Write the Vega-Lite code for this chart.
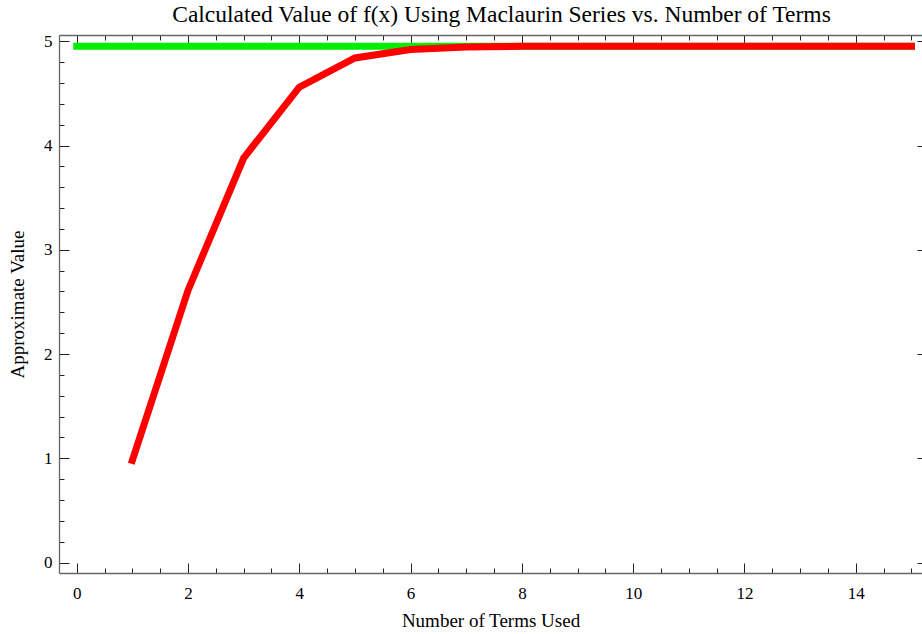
{
  "$schema": "https://vega.github.io/schema/vega-lite/v6.json",
  "autosize": "none",
  "width": 863,
  "height": 538,
  "padding": {"left": 59, "top": 35, "right": 0, "bottom": 61},
  "background": "white",
  "title": {
    "text": "Calculated Value of  f(x) Using Maclaurin Series vs. Number of Terms",
    "font": "Liberation Serif",
    "fontSize": 23.5,
    "fontWeight": "normal",
    "color": "black",
    "anchor": "middle",
    "dx": 11,
    "offset": 6
  },
  "config": {
    "view": {"stroke": null},
    "axis": {
      "labelFont": "Liberation Serif",
      "titleFont": "Liberation Serif",
      "labelFontSize": 17,
      "titleFontSize": 19,
      "titleFontWeight": "normal",
      "labelColor": "black",
      "titleColor": "black",
      "domainColor": "#666666",
      "domainWidth": 1.3,
      "tickColor": "#222222",
      "tickWidth": 1,
      "grid": false
    }
  },
  "datasets": {
    "approx": [
      {"terms": 1, "value": 0.98},
      {"terms": 2, "value": 2.61},
      {"terms": 3, "value": 3.88},
      {"terms": 4, "value": 4.56},
      {"terms": 5, "value": 4.84},
      {"terms": 6, "value": 4.92},
      {"terms": 7, "value": 4.945},
      {"terms": 8, "value": 4.951},
      {"terms": 9, "value": 4.953},
      {"terms": 10, "value": 4.953},
      {"terms": 11, "value": 4.953},
      {"terms": 12, "value": 4.953},
      {"terms": 13, "value": 4.953},
      {"terms": 14, "value": 4.953},
      {"terms": 15, "value": 4.953}
    ],
    "exact": [
      {"terms": 0, "value": 4.953},
      {"terms": 15, "value": 4.953}
    ]
  },
  "resolve": {"axis": {"x": "independent", "y": "independent"}},
  "layer": [
    {
      "data": {"name": "exact"},
      "mark": {"type": "line", "color": "#00ee00", "strokeWidth": 7, "strokeCap": "square", "clip": false},
      "encoding": {
        "x": {
          "field": "terms", "type": "quantitative",
          "scale": {"domain": [-0.318, 15.19], "nice": false, "zero": false},
          "axis": {
            "orient": "bottom",
            "title": "Number of Terms Used",
            "titlePadding": 5,
            "values": [0,0.5,1,1.5,2,2.5,3,3.5,4,4.5,5,5.5,6,6.5,7,7.5,8,8.5,9,9.5,10,10.5,11,11.5,12,12.5,13,13.5,14,14.5,15],
            "labelExpr": "datum.value % 2 === 0 ? format(datum.value, 'd') : ''",
            "tickSize": {"condition": {"test": "datum.value % 2 === 0", "value": -10}, "value": -5},
            "labelPadding": 22,
            "labelFlush": false,
            "labelOverlap": false
          }
        },
        "y": {
          "field": "value", "type": "quantitative",
          "scale": {"domain": [-0.1, 5.06], "nice": false, "zero": false},
          "axis": {
            "orient": "left",
            "title": "Approximate Value",
            "titlePadding": 16,
            "values": [0,0.2,0.4,0.6,0.8,1,1.2,1.4,1.6,1.8,2,2.2,2.4,2.6,2.8,3,3.2,3.4,3.6,3.8,4,4.2,4.4,4.6,4.8,5],
            "labelExpr": "datum.value % 1 === 0 ? format(datum.value, 'd') : ''",
            "tickSize": {"condition": {"test": "datum.value % 1 === 0", "value": -10}, "value": -5},
            "labelPadding": 17,
            "labelFlush": false,
            "labelOverlap": false
          }
        }
      }
    },
    {
      "data": {"name": "approx"},
      "mark": {"type": "line", "color": "#ff0000", "strokeWidth": 7, "strokeCap": "square", "strokeJoin": "miter", "clip": false},
      "encoding": {
        "x": {
          "field": "terms", "type": "quantitative",
          "axis": {
            "orient": "top",
            "title": null,
            "values": [0,0.5,1,1.5,2,2.5,3,3.5,4,4.5,5,5.5,6,6.5,7,7.5,8,8.5,9,9.5,10,10.5,11,11.5,12,12.5,13,13.5,14,14.5,15],
            "labels": false,
            "tickSize": {"condition": {"test": "datum.value % 2 === 0", "value": -10}, "value": -5}
          }
        },
        "y": {
          "field": "value", "type": "quantitative",
          "axis": {
            "orient": "right",
            "title": null,
            "offset": 5,
            "values": [0,0.2,0.4,0.6,0.8,1,1.2,1.4,1.6,1.8,2,2.2,2.4,2.6,2.8,3,3.2,3.4,3.6,3.8,4,4.2,4.4,4.6,4.8,5],
            "labels": false,
            "tickSize": {"condition": {"test": "datum.value % 1 === 0", "value": -10}, "value": -5}
          }
        }
      }
    }
  ]
}
